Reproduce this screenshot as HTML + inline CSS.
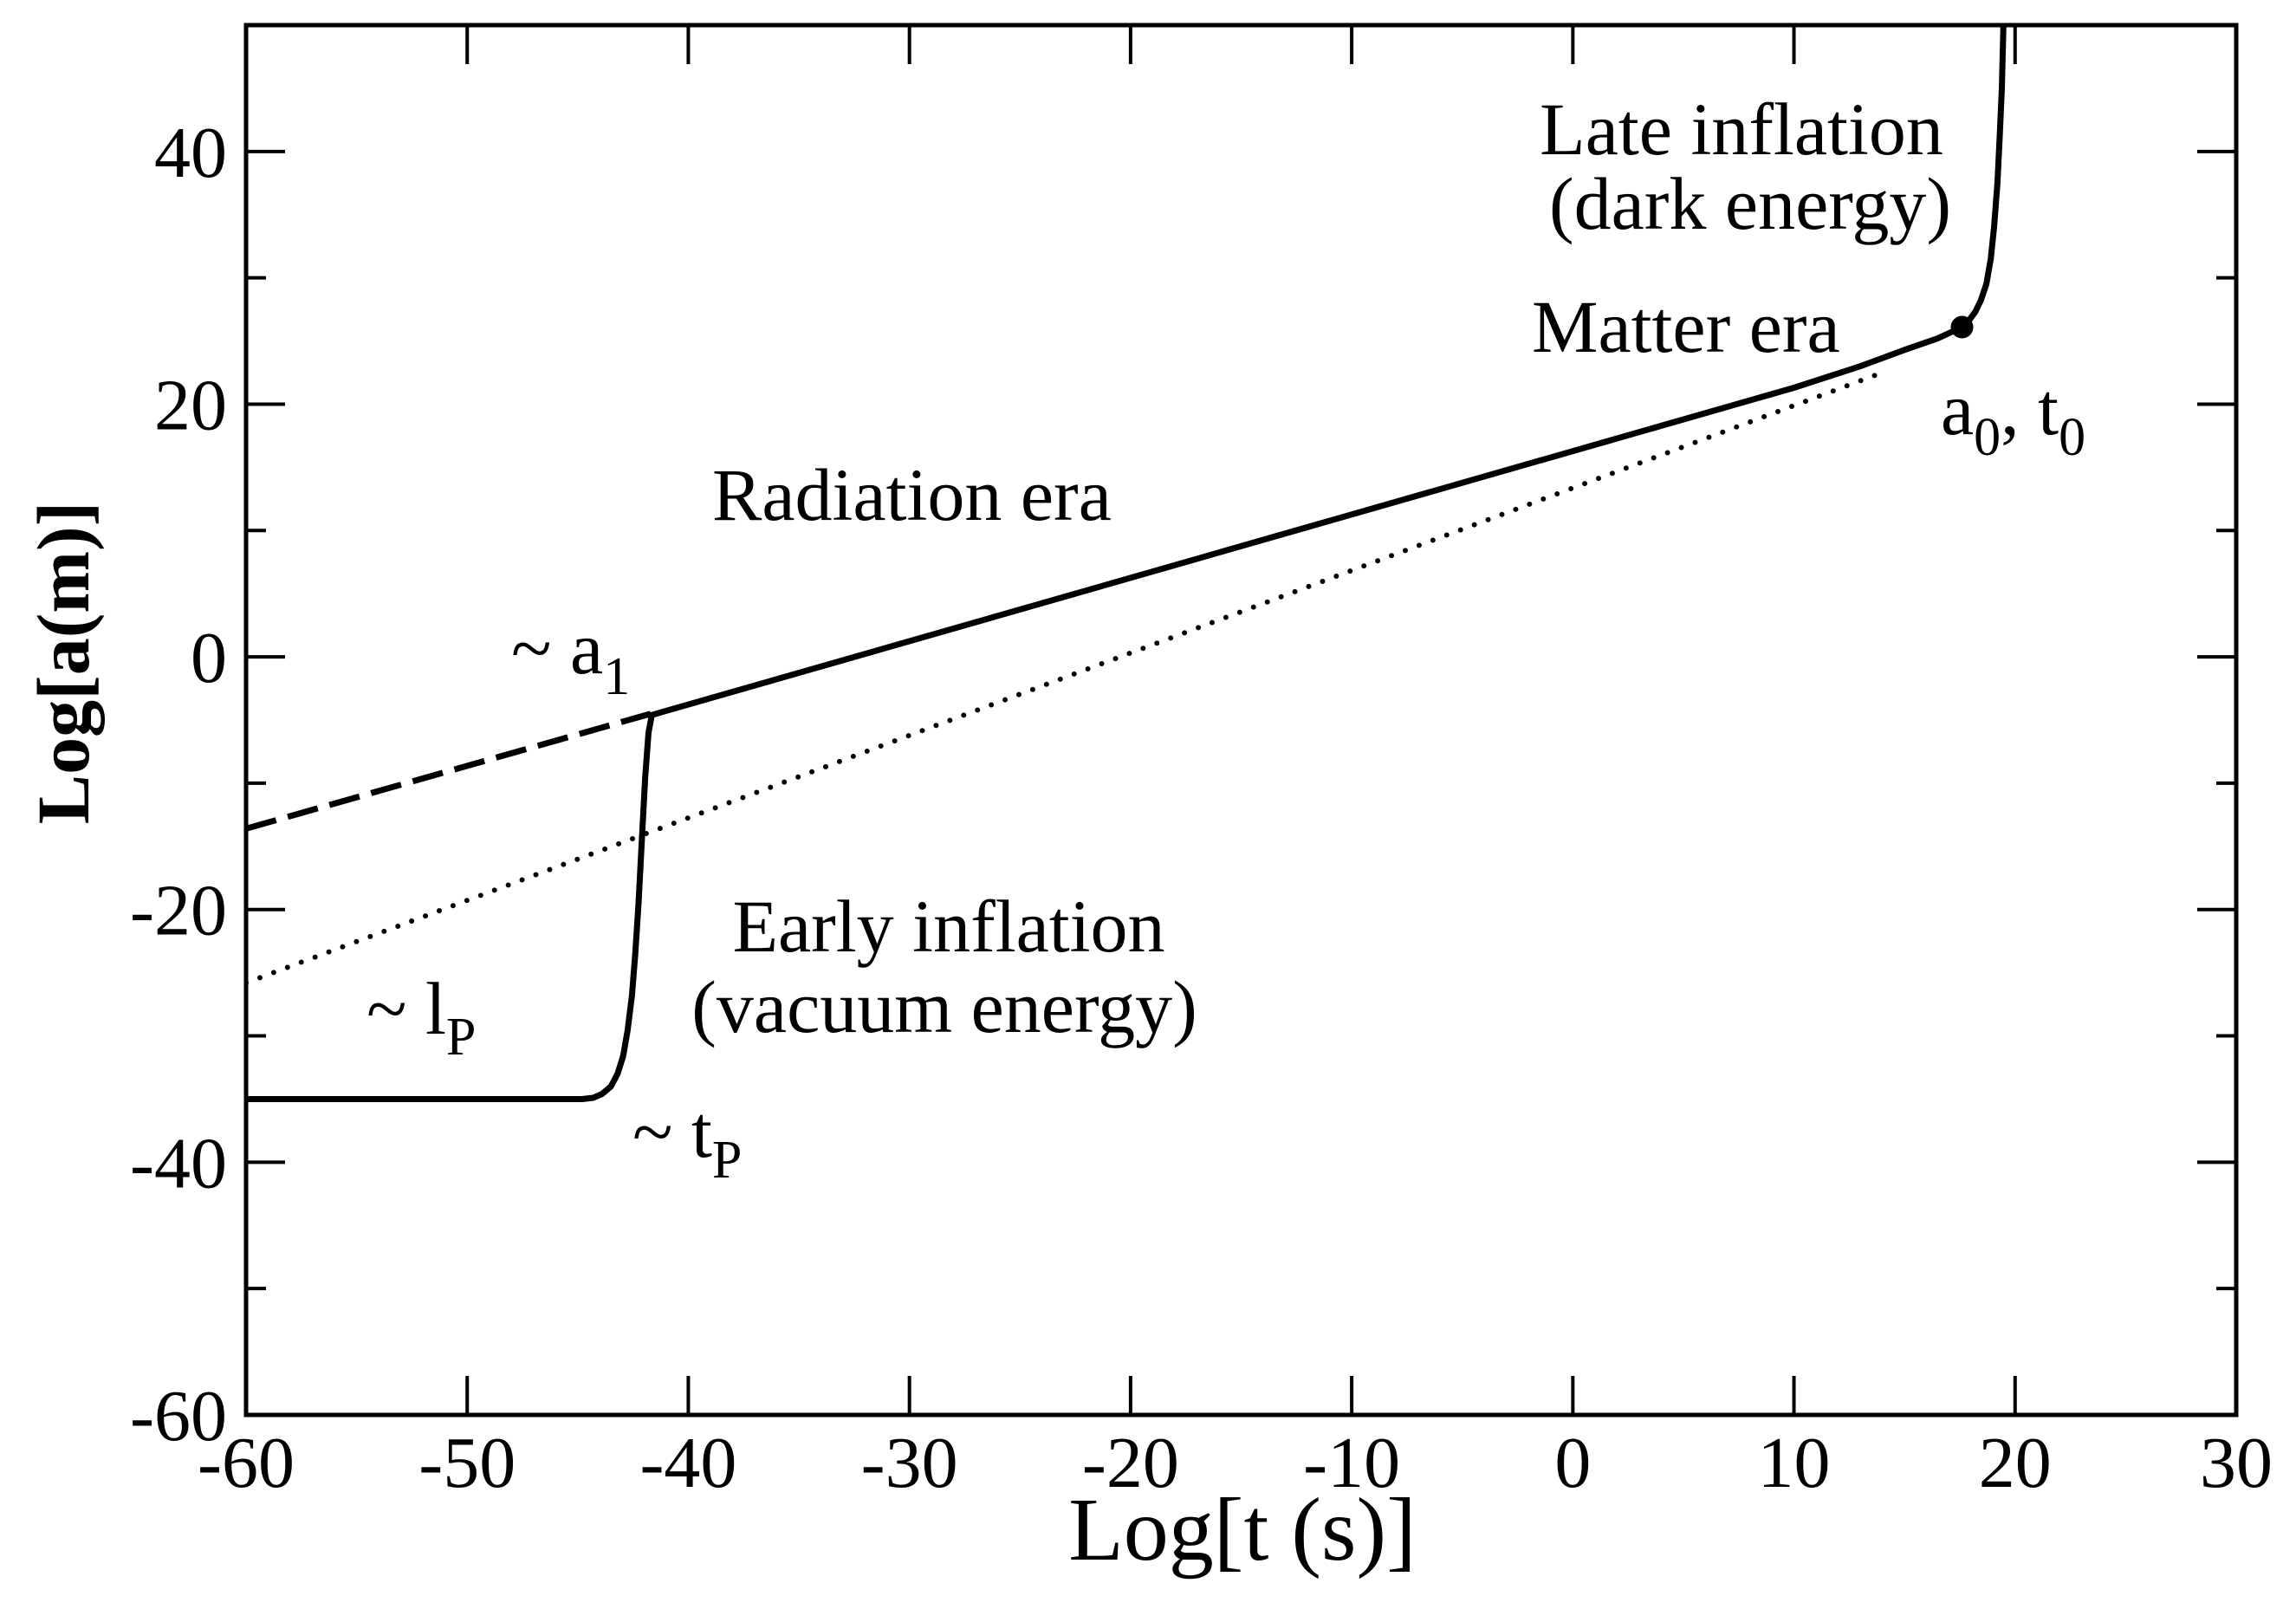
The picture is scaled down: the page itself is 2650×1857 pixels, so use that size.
<!DOCTYPE html>
<html><head><meta charset="utf-8">
<style>
html,body{margin:0;padding:0;background:#fff;}
svg{display:block;}
text{font-family:"Liberation Serif",serif;fill:#000;}
</style></head>
<body>
<svg id="chart" width="2650" height="1857" viewBox="0 0 2650 1857" xmlns="http://www.w3.org/2000/svg">
<g id="marks"></g>
<g id="axes"></g>
<g font-size="86">
  <text x="2010" y="178" text-anchor="middle">Late inflation</text>
  <text x="2020" y="264" text-anchor="middle">(dark energy)</text>
  <text x="1768" y="406">Matter era</text>
  <text x="2240" y="501">a<tspan font-size="62" dy="24">0</tspan><tspan dy="-24">, t</tspan><tspan font-size="62" dy="24">0</tspan></text>
  <text x="822" y="600">Radiation era</text>
  <text x="590" y="777">~ a<tspan font-size="62" dy="24">1</tspan></text>
  <text x="1095" y="1098" text-anchor="middle">Early inflation</text>
  <text x="1090" y="1191" text-anchor="middle">(vacuum energy)</text>
  <text x="423" y="1193">~ l<tspan font-size="62" dy="24">P</tspan></text>
  <text x="730" y="1335">~ t<tspan font-size="62" dy="24">P</tspan></text>
</g>
<text x="1434" y="1800" font-size="104" text-anchor="middle">Log[t (s)]</text>
<text x="0" y="0" font-size="86" font-weight="bold" text-anchor="middle" transform="translate(102,765) rotate(-90)">Log[a(m)]</text>
</svg>
<script>
// ---- data ----
const solidT = [-60,-44.8,-44.3,-43.9,-43.5,-43.2,-42.95,-42.75,-42.55,-42.4,-42.25,-42.1,-41.95,-41.8,-41.65,10,13,15,16.5,17.6,17.9,18.2,18.45,18.7,18.9,19.05,19.2,19.3,19.4,19.47];
const solidA = [-35,-35,-34.9,-34.6,-34.0,-33.0,-31.6,-29.6,-26.8,-23.5,-19.5,-14.5,-9.5,-6,-4.6,21.3,23,24.3,25.2,26.1,26.6,27.3,28.2,29.5,31.5,34,37.5,41,45,50];
const dashedT = [-60,-41.7];
const dashedA = [-13.6,-4.5];
const dottedT = [-60,14];
const dottedA = [-25.8,22.5];
const markerT = [17.6];
const markerA = [26.1];
const xTicks = [-60,-50,-40,-30,-20,-10,0,10,20,30];
const yTicks = [-60,-40,-20,0,20,40];
const yMinorTicks = [-50,-30,-10,10,30];
// ---- axes ----
const X0=284,X1=2581,Y0=29,Y1=1633;
const xMin=-60,xMax=30,yMin=-60,yMax=50;
const sx=v=>X0+(v-xMin)/(xMax-xMin)*(X1-X0);
const sy=v=>Y1-(v-yMin)/(yMax-yMin)*(Y1-Y0);
const NS="http://www.w3.org/2000/svg";
const marks=document.getElementById('marks'), axes=document.getElementById('axes');
function mk(tag,parent,attrs){const e=document.createElementNS(NS,tag);for(const k in attrs)e.setAttribute(k,attrs[k]);parent.appendChild(e);return e;}
function pts(T,A){return T.map((t,i)=>sx(t).toFixed(1)+','+sy(A[i]).toFixed(1)).join(' ');}
const clip=mk('clipPath',marks,{id:'pc'});mk('rect',clip,{x:X0,y:Y0,width:X1-X0,height:Y1-Y0});
let p=mk('polyline',marks,{points:pts(dottedT,dottedA),fill:'none',stroke:'#000','stroke-width':6,'stroke-dasharray':'0 17','stroke-linecap':'round','clip-path':'url(#pc)'});


p=mk('polyline',marks,{points:pts(dashedT,dashedA),fill:'none',stroke:'#000','stroke-width':7,'stroke-dasharray':'36 14','clip-path':'url(#pc)'});


p=mk('polyline',marks,{points:pts(solidT,solidA),fill:'none',stroke:'#000','stroke-width':7,'stroke-linejoin':'round','clip-path':'url(#pc)'});


markerT.forEach((t,i)=>{const c=mk('circle',marks,{cx:sx(t),cy:sy(markerA[i]),r:13,fill:'#000'});

});
let r=mk('rect',axes,{x:X0,y:Y0,width:X1-X0,height:Y1-Y0,fill:'none',stroke:'#000','stroke-width':5});


xTicks.forEach(v=>{const x=sx(v);
 mk('line',axes,{x1:x,y1:Y1,x2:x,y2:Y1-45,stroke:'#000','stroke-width':4});
 mk('line',axes,{x1:x,y1:Y0,x2:x,y2:Y0+45,stroke:'#000','stroke-width':4});
 const t=mk('text',axes,{x:x,y:1716,'font-size':84,'text-anchor':'middle'});t.textContent=v;
 
 });
yTicks.forEach(v=>{const y=sy(v);
 mk('line',axes,{x1:X0,y1:y,x2:X0+45,y2:y,stroke:'#000','stroke-width':4});
 mk('line',axes,{x1:X1,y1:y,x2:X1-45,y2:y,stroke:'#000','stroke-width':4});
 const t=mk('text',axes,{x:262,y:y+29,'font-size':84,'text-anchor':'end'});t.textContent=v;
 
 });
yMinorTicks.forEach(v=>{const y=sy(v);
 mk('line',axes,{x1:X0,y1:y,x2:X0+23,y2:y,stroke:'#000','stroke-width':4});
 mk('line',axes,{x1:X1,y1:y,x2:X1-23,y2:y,stroke:'#000','stroke-width':4});});
</script>
</body></html>
